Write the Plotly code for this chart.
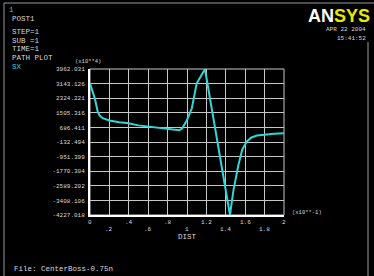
import plotly.graph_objects as go

# ---- data ----
dist = [0.0, 0.03, 0.05, 0.08, 0.10, 0.13, 0.20, 0.30, 0.38, 0.50, 0.60, 0.70, 0.80, 0.88, 0.92,
        0.95, 1.00, 1.05, 1.10, 1.14, 1.185, 1.443, 1.48, 1.53, 1.57, 1.615, 1.66, 1.72, 1.80, 1.90, 2.0]
sx = [3150, 2700, 2300, 1550, 1350, 1200, 1070, 970, 930, 800, 740, 660, 590, 540, 530,
      620, 1100, 1760, 3160, 3530, 3962.031, -4227.018, -2800, -1420, -550, -116, 108, 230, 290, 335, 360]

y_ticks = [3962.031, 3143.126, 2324.221, 1505.316, 686.411, -132.494, -951.399,
           -1770.304, -2589.202, -3408.106, -4227.018]
y_tick_labels = ["3962.031", "3143.126", "2324.221", "1505.316", "686.411", "-132.494",
                 "-951.399", "-1770.304", "-2589.202", "-3408.106", "-4227.018"]
x_ticks = [0, 0.2, 0.4, 0.6, 0.8, 1.0, 1.2, 1.4, 1.6, 1.8, 2.0]
x_tick_labels = ["0", ".2", ".4", ".6", ".8", "1", "1.2", "1.4", "1.6", "1.8", "2"]

W, H = 374, 276
L, R, T, B = 90, 284, 69, 215
MONO = "Liberation Mono, DejaVu Sans Mono, monospace"
TXT = "#d8d8d8"
CYAN = "#33d6d6"


def px(x):
    return (x - L) / (R - L)


def py(y):
    return (B - y) / (B - T)


fig = go.Figure()
fig.add_trace(go.Scatter(x=dist, y=sx, mode="lines",
                         line=dict(color=CYAN, width=2), showlegend=False))

fig.update_layout(
    width=W, height=H,
    margin=dict(l=L, r=W - R, t=T, b=H - B, pad=0),
    paper_bgcolor="black", plot_bgcolor="black",
    showlegend=False,
    font=dict(family=MONO, color=TXT, size=6),
    xaxis=dict(range=[0, 2], tickvals=x_ticks, showticklabels=False, ticks="",
               showgrid=True, gridcolor="#c8c8c8", gridwidth=1, zeroline=False,
               showline=True, linecolor="white", linewidth=2),
    yaxis=dict(range=[y_ticks[-1], y_ticks[0]], tickvals=y_ticks, ticktext=y_tick_labels,
               ticks="", ticklabelstandoff=2,
               tickfont=dict(family=MONO, size=6, color=TXT),
               showgrid=True, gridcolor="#c8c8c8", gridwidth=1, zeroline=False,
               showline=True, linecolor="white", linewidth=2),
)

# top / right edge of the plot area (grid-like)
fig.add_shape(type="rect", xref="paper", yref="paper", x0=0, x1=1, y0=0, y1=1,
              line=dict(color="#c8c8c8", width=1), layer="below")

# x tick labels on alternating rows
for i, (v, t) in enumerate(zip(x_ticks, x_tick_labels)):
    fig.add_annotation(x=v, xref="x", y=py(222 if i % 2 == 0 else 229), yref="paper",
                       text=t, showarrow=False, xanchor="center", yanchor="middle",
                       font=dict(family=MONO, size=6, color=TXT))

# frame lines
fig.add_shape(type="line", xref="paper", yref="paper", x0=px(4), x1=px(4), y0=py(3), y1=py(276),
              line=dict(color="#9a9a9a", width=1))
fig.add_shape(type="line", xref="paper", yref="paper", x0=px(4), x1=px(374), y0=py(3), y1=py(3),
              line=dict(color="#9a9a9a", width=1))
fig.add_shape(type="line", xref="paper", yref="paper", x0=px(368), x1=px(368), y0=py(42), y1=py(276),
              line=dict(color="#9a9a9a", width=1))


def label(x, y, text, color=TXT, size=6.5, anchor="left"):
    fig.add_annotation(x=px(x), y=py(y), xref="paper", yref="paper", text=text,
                       showarrow=False, xanchor=anchor, yanchor="middle",
                       font=dict(family=MONO, size=size, color=color))


label(7, 10, "1", color=CYAN, size=7.5)
label(10, 19, "POST1", size=7.5)
label(10, 32, "STEP=1", size=7.5)
label(10, 41, "SUB =1", size=7.5)
label(10, 49, "TIME=1", size=7.5)
label(10, 58, "PATH PLOT", size=7.5)
label(10, 67, "SX", color=CYAN, size=7.5)
label(88, 61, "(x10**4)", size=5.5, anchor="center")
label(290, 212, "(x10**-1)", size=5.5)
label(187, 237, "DIST", size=7.5, anchor="center")
label(368, 29, "APR 22 2004", size=6, anchor="right")
label(368, 38, "15:41:52", size=6, anchor="right")
label(12, 269, "File: CenterBoss-0.75n", size=7.5)

fig.add_annotation(x=px(372), y=py(16), xref="paper", yref="paper",
                   text="<b><span style='color:white'>AN</span><span style='color:#e8e800'>SYS</span></b>",
                   showarrow=False, xanchor="right", yanchor="middle",
                   font=dict(family="Liberation Sans Narrow, Liberation Sans, Arial, sans-serif", size=18))

fig.write_html("out.html")
